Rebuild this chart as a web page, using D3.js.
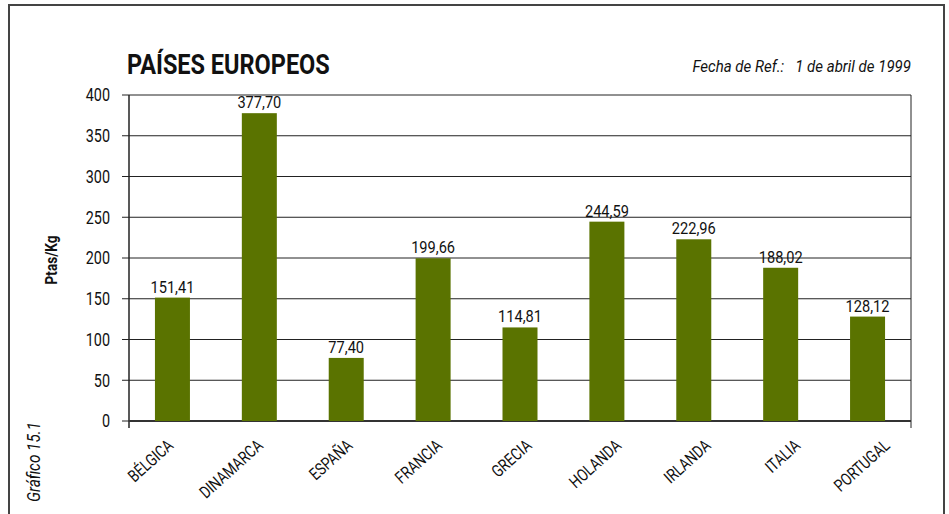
<!DOCTYPE html>
<html>
<head>
<meta charset="utf-8">
<script src="https://cdn.jsdelivr.net/npm/d3@7"></script>
<style>
  html, body { margin: 0; padding: 0; background: #fff; }
  svg text { font-family: "Roboto", "Liberation Sans", sans-serif; fill: #111; }
</style>
</head>
<body>
<svg id="chart" width="949" height="514"></svg>
<script>
// Precio medio por país (Ptas/Kg)
const countries = ["BÉLGICA", "DINAMARCA", "ESPAÑA", "FRANCIA", "GRECIA", "HOLANDA", "IRLANDA", "ITALIA", "PORTUGAL"];
const prices = [151.41, 377.70, 77.40, 199.66, 114.81, 244.59, 222.96, 188.02, 128.12];
const yTicks = [0, 50, 100, 150, 200, 250, 300, 350, 400];

const svg = d3.select("#chart");
const plot = { left: 129, right: 911, top: 95, bottom: 421 };
const NARROW = 0.8; // compresión horizontal del texto (tipografía estrecha)

// Texto estrecho: posición, rotación y compresión horizontal
function narrowText(parent, x, y, rot, str, attrs, sx = NARROW) {
  const t = parent.append("text")
    .attr("transform", `translate(${x},${y}) rotate(${rot}) scale(${sx},1)`)
    .text(str);
  Object.entries(attrs).forEach(([k, v]) => t.attr(k, v));
  return t;
}

// Marco exterior
svg.append("rect")
  .attr("x", 9).attr("y", 5)
  .attr("width", 935).attr("height", 520)
  .attr("fill", "none").attr("stroke", "#444").attr("stroke-width", 2);

const band = d3.scaleBand().domain(countries).range([plot.left, plot.right]);
const y = d3.scaleLinear().domain([0, 400]).range([plot.bottom, plot.top]);
// Extremo de cada etiqueta de categoría
const labelX = d3.scalePoint().domain(countries).range([band(countries[0]) + band.bandwidth() / 2 + 2, plot.right - 20]);

// Líneas de cuadrícula
svg.append("g").selectAll("line").data(yTicks).join("line")
  .attr("x1", plot.left - 7).attr("x2", plot.right)
  .attr("y1", d => y(d)).attr("y2", d => y(d))
  .attr("stroke", "#222").attr("stroke-width", 1);

// Eje Y
const yAxis = d3.axisLeft(y).tickValues(yTicks).tickSize(0).tickPadding(19).tickFormat(d3.format("d"));
const gy = svg.append("g").attr("transform", `translate(${plot.left},0)`).call(yAxis);
gy.select(".domain").remove();
gy.selectAll("text").attr("font-size", 18).attr("fill", "#222")
  .attr("transform", function () {
    const xx = +d3.select(this).attr("x");
    d3.select(this).attr("x", 0);
    return `translate(${xx},0) scale(${NARROW},1)`;
  });

// Borde del área de trazado
svg.append("line").attr("x1", plot.left).attr("x2", plot.left).attr("y1", plot.top).attr("y2", plot.bottom + 7)
  .attr("stroke", "#222").attr("stroke-width", 1.5);
svg.append("line").attr("x1", plot.right).attr("x2", plot.right).attr("y1", plot.top).attr("y2", plot.bottom + 7)
  .attr("stroke", "#222").attr("stroke-width", 1);
svg.append("line").attr("x1", plot.left).attr("x2", plot.right).attr("y1", plot.bottom).attr("y2", plot.bottom)
  .attr("stroke", "#333").attr("stroke-width", 2);

// Barras
svg.append("g").selectAll("rect").data(countries).join("rect")
  .attr("x", d => band(d) + band.bandwidth() / 2 - 17.5)
  .attr("width", 35)
  .attr("y", (d, i) => y(prices[i]))
  .attr("height", (d, i) => y(0) - y(prices[i]))
  .attr("fill", "#5a7300");

// Etiquetas de valor
const fmt = v => v.toFixed(2).replace(".", ",");
const gv = svg.append("g");
countries.forEach((c, i) => {
  narrowText(gv, band(c) + band.bandwidth() / 2, y(prices[i]) - 5, 0, fmt(prices[i]),
    { "text-anchor": "middle", "font-size": 17 }, 0.86);
});

// Etiquetas de categoría
const gx = svg.append("g");
countries.forEach(c => {
  narrowText(gx, labelX(c), plot.bottom + 26, -42, c,
    { "text-anchor": "end", "font-size": 17 });
});

// Títulos
narrowText(svg, 127, 74, 0, "PAÍSES EUROPEOS",
  { "font-size": 27, "font-weight": "bold", "fill": "#000" }, 0.87);
narrowText(svg, 911, 72, 0, "Fecha de Ref.:\u00a0\u00a0 1 de abril de 1999",
  { "text-anchor": "end", "font-size": 16, "font-style": "italic", "fill": "#222" }, 0.94);

narrowText(svg, 57, 260, -90, "Ptas/Kg",
  { "text-anchor": "middle", "font-size": 16, "font-weight": "bold", "fill": "#000" }, 0.85);

narrowText(svg, 40, 462, -90, "Gráfico 15.1",
  { "text-anchor": "middle", "font-size": 18, "font-style": "italic", "fill": "#333" }, 0.85);
</script>
</body>
</html>
